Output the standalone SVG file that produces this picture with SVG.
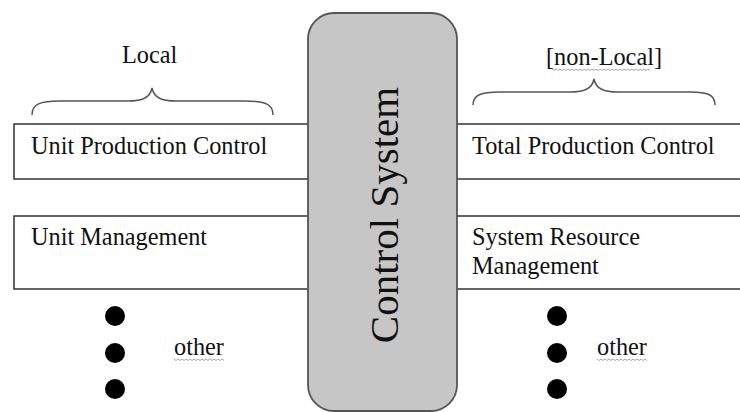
<svg xmlns="http://www.w3.org/2000/svg" width="740" height="412" viewBox="0 0 740 412">
<defs>
<style>
.t{font-family:"Liberation Serif","Times New Roman",serif;font-size:24.3px;fill:#111}
.box{fill:#fff;stroke:#333;stroke-width:1.5}
.brace{fill:none;stroke:#555;stroke-width:1.5}
.wavy{fill:none;stroke:#9a9aa8;stroke-width:0.9}
.dot{fill:#000}
</style>
</defs>
<rect width="740" height="412" fill="#fff"/>
<g id="connectors">
<path class="brace" d="M32,115 C32,104 40,101 60,101 L128,101 C142,101 150,98 152,88 C154,98 162,101 176,101 L245,101 C265,101 273,104 273,115"/>
<path class="brace" d="M473,105 C473,95 481,92 500,92 L570,92 C584,92 592,89 594,79 C596,89 604,92 618,92 L690,92 C708,92 715,95 715,105"/>
</g>
<g id="label-local"><text class="t" x="122" y="63">Local</text></g>
<g id="label-nonlocal"><text class="t" x="546" y="65">[non-Local]</text>
<path class="wavy" d="M552,69 l2,1.5 l2,-1.5 l2,1.5 l2,-1.5 l2,1.5 l2,-1.5 l2,1.5 l2,-1.5 l2,1.5 l2,-1.5 l2,1.5 l2,-1.5 l2,1.5 l2,-1.5 l2,1.5 l2,-1.5 l2,1.5 l2,-1.5 l2,1.5 l2,-1.5 l2,1.5 l2,-1.5 l2,1.5 l2,-1.5 l2,1.5 l2,-1.5 l2,1.5 l2,-1.5 l2,1.5 l2,-1.5 l2,1.5 l2,-1.5 l2,1.5 l2,-1.5 l2,1.5 l2,-1.5 l2,1.5 l2,-1.5 l2,1.5 l2,-1.5 l2,1.5 l2,-1.5 l2,1.5 l2,-1.5 l2,1.5 l2,-1.5 l2,1.5 l2,-1.5 l2,1.5"/></g>
<g id="unit-production-control"><rect class="box" x="14" y="124" width="295" height="55"/><text class="t" x="31" y="154">Unit Production Control</text></g>
<g id="unit-management"><rect class="box" x="14" y="216" width="295" height="73"/><text class="t" x="31" y="245">Unit Management</text></g>
<g id="total-production-control"><rect class="box" x="456" y="124" width="290" height="55"/><text class="t" x="472" y="154">Total Production Control</text></g>
<g id="system-resource-management"><rect class="box" x="456" y="216" width="290" height="73"/><text class="t" x="472" y="245">System Resource</text><text class="t" x="472" y="274">Management</text></g>
<g id="control-system"><rect x="308" y="13" width="149" height="398" rx="26" ry="26" fill="#c6c6c6" stroke="#555" stroke-width="1.8"/>
<text class="t" transform="translate(398,215) rotate(-90)" text-anchor="middle" style="font-size:41px">Control System</text></g>
<g id="other-local"><circle class="dot" cx="115" cy="316" r="10"/><circle class="dot" cx="115" cy="353" r="10"/><circle class="dot" cx="115" cy="389" r="10"/>
<text class="t" x="174" y="355">other</text>
<path class="wavy" d="M174,359 l2,1.5 l2,-1.5 l2,1.5 l2,-1.5 l2,1.5 l2,-1.5 l2,1.5 l2,-1.5 l2,1.5 l2,-1.5 l2,1.5 l2,-1.5 l2,1.5 l2,-1.5 l2,1.5 l2,-1.5 l2,1.5 l2,-1.5 l2,1.5 l2,-1.5 l2,1.5 l2,-1.5 l2,1.5 l2,-1.5 l2,1.5"/></g>
<g id="other-nonlocal"><circle class="dot" cx="557" cy="316" r="10"/><circle class="dot" cx="557" cy="353" r="10"/><circle class="dot" cx="557" cy="389" r="10"/>
<text class="t" x="597" y="355">other</text>
<path class="wavy" d="M597,359 l2,1.5 l2,-1.5 l2,1.5 l2,-1.5 l2,1.5 l2,-1.5 l2,1.5 l2,-1.5 l2,1.5 l2,-1.5 l2,1.5 l2,-1.5 l2,1.5 l2,-1.5 l2,1.5 l2,-1.5 l2,1.5 l2,-1.5 l2,1.5 l2,-1.5 l2,1.5 l2,-1.5 l2,1.5 l2,-1.5 l2,1.5"/></g>
</svg>
